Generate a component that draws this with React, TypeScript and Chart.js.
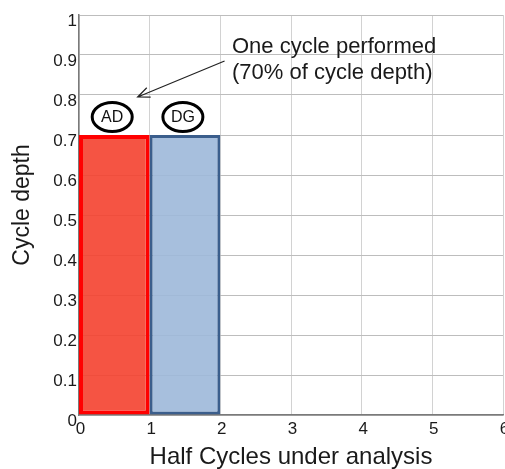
import React, { useEffect, useRef } from 'react';
import { Chart, registerables } from 'chart.js';

Chart.register(...registerables);

// ---- data ----
const barCenters = [0.5, 1.5];
const cycleDepths = [0.7, 0.7];
const barLabels = ['AD', 'DG'];
const barFills = ['rgba(244,65,47,0.9)', 'rgba(157,184,217,0.9)'];
const barBorders = ['#ff0000', '#3b5e8c'];
const barBorderWidths = [4, 3];
const xTickValues = [0, 1, 2, 3, 4, 5, 6];
const yTickValues = [0, 0.1, 0.2, 0.3, 0.4, 0.5, 0.6, 0.7, 0.8, 0.9, 1];
const xTitle = 'Half Cycles under analysis';
const yTitle = 'Cycle depth';
const noteLines = ['One cycle performed', '(70% of cycle depth)'];

const FONT = "'Liberation Sans', Arial, sans-serif";

const annotationPlugin = {
  id: 'annotations',
  afterDatasetsDraw(chart: any) {
    const { ctx, scales } = chart;
    const x = scales.x;
    const y = scales.y;
    ctx.save();
    // circled labels above bars
    barLabels.forEach((lab, i) => {
      const cx = x.getPixelForValue(barCenters[i] - 0.03);
      const cy = y.getPixelForValue(0.745);
      ctx.beginPath();
      ctx.ellipse(cx, cy, 20, 14.5, 0, 0, Math.PI * 2);
      ctx.lineWidth = 3;
      ctx.strokeStyle = '#000';
      ctx.stroke();
      ctx.font = `16px ${FONT}`;
      ctx.fillStyle = '#111';
      ctx.textAlign = 'center';
      ctx.textBaseline = 'middle';
      ctx.fillText(lab, cx, cy + 1);
    });
    // arrow
    const x1 = x.getPixelForValue(2.06);
    const y1 = y.getPixelForValue(0.885);
    const x2 = x.getPixelForValue(0.83);
    const y2 = y.getPixelForValue(0.795);
    ctx.beginPath();
    ctx.moveTo(x1, y1);
    ctx.lineTo(x2, y2);
    const ang = Math.atan2(y2 - y1, x2 - x1);
    const hl = 13;
    const spread = 0.4;
    ctx.moveTo(x2 - hl * Math.cos(ang - spread), y2 - hl * Math.sin(ang - spread));
    ctx.lineTo(x2, y2);
    ctx.lineTo(x2 - hl * Math.cos(ang + spread), y2 - hl * Math.sin(ang + spread));
    ctx.lineWidth = 1.2;
    ctx.strokeStyle = '#222';
    ctx.stroke();
    // note text
    ctx.font = `22px ${FONT}`;
    ctx.fillStyle = '#1a1a1a';
    ctx.textAlign = 'left';
    ctx.textBaseline = 'alphabetic';
    ctx.fillText(noteLines[0], x.getPixelForValue(2.165), y.getPixelForValue(0.905));
    ctx.fillText(noteLines[1], x.getPixelForValue(2.165), y.getPixelForValue(0.84));
    ctx.restore();
  },
  afterDraw(chart: any) {
    const { ctx, chartArea } = chart;
    ctx.save();
    ctx.translate(chartArea.left - 50, (chartArea.top + chartArea.bottom) / 2 - 10);
    ctx.rotate(-Math.PI / 2);
    ctx.font = `23px ${FONT}`;
    ctx.fillStyle = '#1a1a1a';
    ctx.textAlign = 'center';
    ctx.textBaseline = 'alphabetic';
    ctx.fillText(yTitle, 0, 0);
    ctx.restore();
  },
};

export default function App() {
  const canvasRef = useRef<HTMLCanvasElement | null>(null);

  useEffect(() => {
    if (!canvasRef.current) return;
    const chart = new Chart(canvasRef.current, {
      type: 'bar',
      data: {
        datasets: [
          {
            label: 'Cycle depth',
            data: barCenters.map((c, i) => ({ x: c, y: cycleDepths[i] })),
            backgroundColor: barFills,
            borderColor: barBorders,
            borderWidth: barBorderWidths,
            borderSkipped: false,
            barPercentage: 1,
            categoryPercentage: 1,
            inflateAmount: 0,
          } as any,
        ],
      },
      options: {
        animation: false,
        responsive: true,
        maintainAspectRatio: false,
        layout: { padding: { top: 15, right: 2, left: 0, bottom: 0 } },
        plugins: {
          legend: { display: false },
          tooltip: { enabled: false },
        },
        scales: {
          x: {
            type: 'linear',
            min: 0,
            max: 6,
            offset: false,
            afterBuildTicks: (scale: any) => {
              scale.ticks = xTickValues.map((v) => ({ value: v }));
            },
            afterFit: (scale: any) => {
              scale.height = 54;
              scale.paddingLeft = 0;
              scale.paddingRight = 0;
            },
            grid: { color: '#d2d2d2', lineWidth: 1, drawTicks: false, offset: false },
            border: { display: true, color: '#7a7a7a', width: 1.5 },
            ticks: {
              padding: 4,
              labelOffset: 1.5,
              maxRotation: 0,
              autoSkip: false,
              color: '#1a1a1a',
              font: { family: FONT, size: 17 },
              callback: (v: any) => String(v),
            },
            title: {
              display: true,
              text: xTitle,
              color: '#1a1a1a',
              font: { family: FONT, size: 24, lineHeight: 1 },
              padding: { top: 0, bottom: 0 },
            },
          },
          y: {
            type: 'linear',
            min: 0,
            max: 1,
            afterBuildTicks: (scale: any) => {
              scale.ticks = yTickValues.map((v) => ({ value: v }));
            },
            afterFit: (scale: any) => {
              scale.width = 79;
              scale.paddingTop = 0;
              scale.paddingBottom = 0;
            },
            grid: { color: '#bdbdbd', lineWidth: 1, drawTicks: false },
            border: { display: true, color: '#7a7a7a', width: 1.5 },
            ticks: {
              padding: 2,
              labelOffset: 6,
              autoSkip: false,
              color: '#1a1a1a',
              font: { family: FONT, size: 17 },
              callback: (v: any) => String(Number(Number(v).toFixed(1))),
            },
          },
        },
      },
      plugins: [annotationPlugin],
    });
    return () => chart.destroy();
  }, []);

  return (
    <div style={{ position: 'fixed', left: 0, top: 0, width: 505, height: 469, background: '#fff' }}>
      <canvas ref={canvasRef} />
    </div>
  );
}
